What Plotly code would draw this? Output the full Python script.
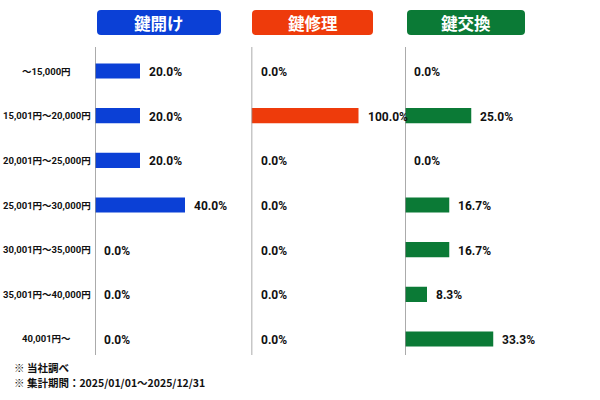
import plotly.graph_objects as go

# ---- data ----
categories = ["～15,000円", "15,001円～20,000円", "20,001円～25,000円", "25,001円～30,000円",
              "30,001円～35,000円", "35,001円～40,000円", "40,001円～"]
services = ["鍵開け", "鍵修理", "鍵交換"]
kagiake = [20.0, 20.0, 20.0, 40.0, 0.0, 0.0, 0.0]
shuri = [0.0, 100.0, 0.0, 0.0, 0.0, 0.0, 0.0]
koukan = [0.0, 25.0, 0.0, 16.7, 16.7, 8.3, 33.3]
notes = ["※ 当社調べ", "※ 集計期間：2025/01/01～2025/12/31"]

series = [kagiake, shuri, koukan]
colors = ["#0b40d6", "#ee3b0b", "#0b7a36"]

W, H = 600, 400
def px(x):
    return x / W
def py(y):
    return 1 - y / H

panel_x0 = [95, 251.5, 405]
panel_scale = [2.25, 1.07, 2.65]
panel_w = 150
header_box = [(97, 221), (252, 373), (407, 525)]

NUM = "Roboto, Noto Sans CJK JP, sans-serif"
CJK = "Noto Sans CJK JP, sans-serif"

fig = go.Figure()
axes = ["x", "x2", "x3"]
for i, vals in enumerate(series):
    fig.add_trace(go.Bar(
        x=vals, y=categories, orientation="h", width=0.34,
        marker=dict(color=colors[i], line=dict(width=0)),
        xaxis=axes[i], yaxis="y", showlegend=False, hoverinfo="skip",
    ))

layout = dict(
    width=W, height=H, margin=dict(l=0, r=0, t=0, b=0),
    paper_bgcolor="white", plot_bgcolor="white",
    yaxis=dict(domain=[py(361.3), py(48.7)], type="category",
               categoryorder="array", categoryarray=categories,
               range=[6.5, -0.5], visible=False, fixedrange=True),
)
for i in range(3):
    key = "xaxis" if i == 0 else f"xaxis{i+1}"
    x0 = panel_x0[i]
    layout[key] = dict(domain=[px(x0), px(x0 + panel_w)],
                       range=[0, panel_w / panel_scale[i]],
                       visible=False, fixedrange=True, anchor="y")
fig.update_layout(**layout)

shapes = []
annotations = []

def rounded(x0, y0, x1, y1, r):
    rx, ry = r / W, r / H
    X0, X1, Y0, Y1 = px(x0), px(x1), py(y1), py(y0)
    return (f"M{X0+rx},{Y1} L{X1-rx},{Y1} Q{X1},{Y1} {X1},{Y1-ry} "
            f"L{X1},{Y0+ry} Q{X1},{Y0} {X1-rx},{Y0} L{X0+rx},{Y0} "
            f"Q{X0},{Y0} {X0},{Y0+ry} L{X0},{Y1-ry} Q{X0},{Y1} {X0+rx},{Y1} Z")

for i in range(3):
    ax = axes[i]
    shapes.append(dict(type="line", xref=ax, yref="paper", x0=0, x1=0,
                       y0=py(355), y1=py(47), line=dict(color="#8f8f8f", width=1.5)))
    hx0, hx1 = header_box[i]
    shapes.append(dict(type="path", xref="paper", yref="paper",
                       path=rounded(hx0, 10, hx1, 35, 4),
                       fillcolor=colors[i], line=dict(width=0)))
    annotations.append(dict(xref="paper", yref="paper", x=px((hx0 + hx1) / 2), y=py(22.5),
                            text=f"<b>{services[i]}</b>", showarrow=False,
                            font=dict(family=CJK, size=16.5, color="white"),
                            xanchor="center", yanchor="middle"))
    for cat, v in zip(categories, series[i]):
        annotations.append(dict(xref=ax, yref="y", x=v, y=cat, text=f"<b>{v:.1f}%</b>",
                                showarrow=False, xanchor="left", yanchor="middle",
                                xshift=7, yshift=-1,
                                font=dict(family=NUM, size=12, color="#111111")))

for cat in categories:
    annotations.append(dict(xref="paper", yref="y", x=px(46.5), y=cat, text=f"<b>{cat}</b>",
                            showarrow=False, xanchor="center", yanchor="middle",
                            font=dict(family=NUM, size=9.5, color="#111111")))

for j, n in enumerate(notes):
    annotations.append(dict(xref="paper", yref="paper", x=px(12), y=py(367 + 15 * j),
                            text=f"<b>{n}</b>", showarrow=False, xanchor="left",
                            yanchor="middle",
                            font=dict(family=CJK, size=10.5, color="#111111")))

fig.update_layout(shapes=shapes, annotations=annotations)
fig.write_html("out.html")
